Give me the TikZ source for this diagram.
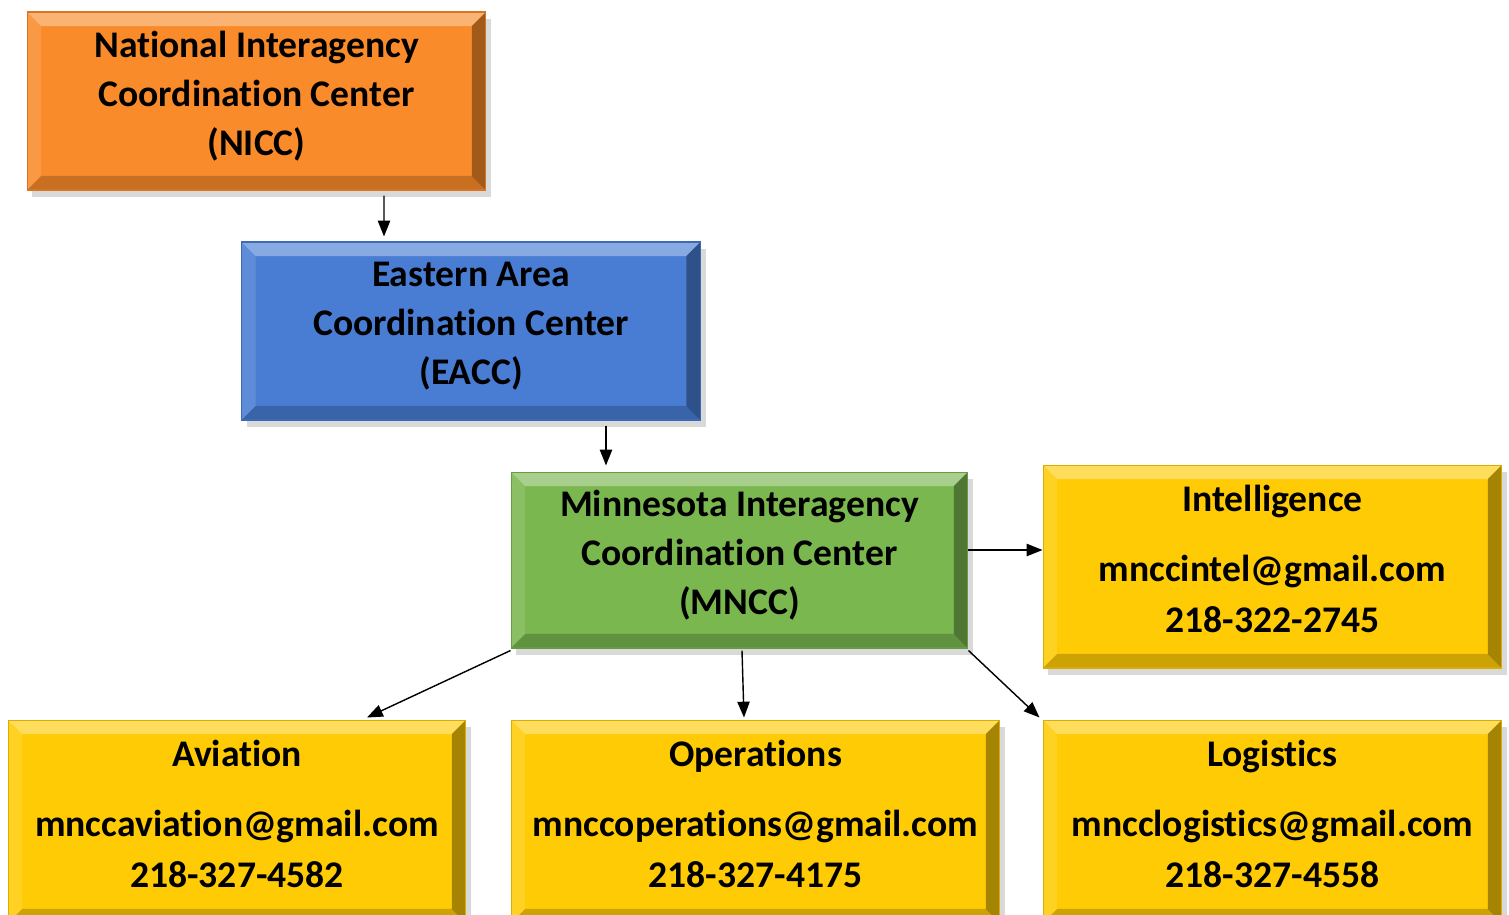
\documentclass[tikz,border=0pt]{standalone}
\usepackage{fontspec}
\setmainfont{Carlito}[Ligatures=NoCommon]
\usetikzlibrary{arrows.meta,shadows}

\definecolor{nicc}{RGB}{250,139,43}
\definecolor{eacc}{RGB}{73,125,212}
\definecolor{mncc}{RGB}{122,183,79}
\definecolor{desk}{RGB}{255,203,5}

\tikzset{
  bevel/.style={path picture={
      \path (path picture bounding box.north west) coordinate (pnw)
            (path picture bounding box.north east) coordinate (pne)
            (path picture bounding box.south east) coordinate (pse)
            (path picture bounding box.south west) coordinate (psw);
      \fill[white,opacity=.35] (pnw) -- (pne) -- ([shift={(-8pt,-8pt)}]pne) -- ([shift={(8pt,-8pt)}]pnw) -- cycle;
      \fill[white,opacity=.12] (pnw) -- ([shift={(8pt,-8pt)}]pnw) -- ([shift={(8pt,8pt)}]psw) -- (psw) -- cycle;
      \fill[black,opacity=.35] (pne) -- (pse) -- ([shift={(-8pt,8pt)}]pse) -- ([shift={(-8pt,-8pt)}]pne) -- cycle;
      \fill[black,opacity=.2] (psw) -- (pse) -- ([shift={(-8pt,8pt)}]pse) -- ([shift={(8pt,8pt)}]psw) -- cycle;
  }},
  box/.style={rectangle, draw=#1!85!black, fill=#1, bevel, line width=0.6pt,
    drop shadow={shadow xshift=3pt, shadow yshift=-4pt, opacity=.3},
    align=center, inner sep=0pt, font=\bfseries\fontsize{21.4}{28}\selectfont,
    text depth=8.5pt, minimum width=9.18cm, minimum height=3.56cm},
  deskbox/.style={box=desk, minimum height=4.06cm, text depth=8.5pt},
  arr/.style={-{Triangle[length=9pt,width=7pt]}, line width=0.8pt},
}

\begin{document}
\begin{tikzpicture}[x=0.02cm,y=-0.02cm]
  \clip (0,0) rectangle (1509,914);

  % centres
  \node[box=nicc] (nicc) at (256.5,101) {National Interagency\\Coordination Center\\(NICC)};
  \node[box=eacc] (eacc) at (471,331) {Eastern Area\\Coordination Center\\(EACC)};
  \node[box=mncc, minimum width=9.14cm, minimum height=3.52cm] (mncc) at (739.5,560)
    {Minnesota Interagency\\Coordination Center\\(MNCC)};

  % desks
  \node[deskbox] (intel) at (1272.5,566.5)
    {Intelligence\\[12pt]mnccintel@gmail.com\\[1pt]218-322-2745};
  \node[deskbox, minimum width=9.16cm] (air) at (237,821.5)
    {Aviation\\[12pt]mnccaviation@gmail.com\\[1pt]218-327-4582};
  \node[deskbox, minimum width=9.78cm] (ops) at (755.5,821.5)
    {Operations\\[12pt]mnccoperations@gmail.com\\[1pt]218-327-4175};
  \node[deskbox] (log) at (1272.5,821.5)
    {Logistics\\[12pt]mncclogistics@gmail.com\\[1pt]218-327-4558};

  \draw[arr] ([shift={(127.5,5)}]nicc.south) -- ([shift={(-87,-5)}]eacc.north);
  \draw[arr] ([shift={(135,5)}]eacc.south) -- ([shift={(-133.5,-6)}]mncc.north);
  \draw[arr] ([shift={(0,-10)}]mncc.east) -- ([shift={(0,-16.5)}]intel.west);
  \draw[arr] ([shift={(0,2)}]mncc.south west) -- ([shift={(130,-2)}]air.north);
  \draw[arr] ([shift={(2.5,2)}]mncc.south) -- ([shift={(-11.5,-2)}]ops.north);
  \draw[arr] ([shift={(0,2)}]mncc.south east) -- ([shift={(-3,-2)}]log.north west);
\end{tikzpicture}
\end{document}
